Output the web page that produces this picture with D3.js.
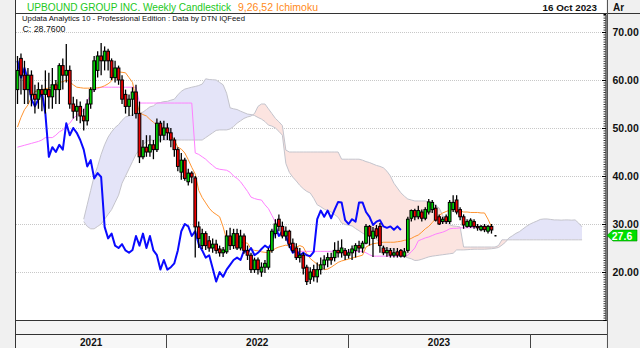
<!DOCTYPE html>
<html><head><meta charset="utf-8">
<script src="https://cdn.jsdelivr.net/npm/d3@7"></script>
<style>html,body{margin:0;padding:0;background:#fff;}svg{display:block;font-family:Arial,"Liberation Sans",sans-serif;}</style>
</head><body><svg id="c" width="640" height="348"></svg>
<script>
// ---------------- DATA ----------------
const firstWeek = "2021-03-08";           // first weekly candle
const opens  = [58,64.5,61,58,61,57,56,58,57,58,56.5,59,58,63,61,62,55,53.5,54.5,52.5,51.5,55,58,62,65,64,66,64,60.5,62.5,60,57,54.5,56,57.5,53,44,46,45,46.5,45.5,51,48.5,50,49,47.5,45.5,40.8,43.3,38.8,40.6,39.6,29.4,25.5,28,26.5,25,25.8,24.8,24,24.2,27.5,25.5,28,25,27.5,24.5,23.5,20.5,22.5,20,21,21,24.5,28,31,29.5,27.5,28.5,26,25,23,23.5,21,18.5,20.5,19,20.5,21.5,22.5,23,23,24.5,24,24.5,23.5,24,24.5,25.5,25,26,29.5,27,29,29.5,25,24,24.5,23.5,24.2,24.5,23.3,24.5,31.2,32.8,31.5,32.5,31.2,32.5,33,33.3,31.5,30.5,31.5,30.5,33,35,33,31.5,29.5,29.5,30.5,29.5,28.8,29.5,28.5,29.5];
const highs  = [65,65.5,64,62.5,62,59,59.5,59,62,61.5,62.5,60,63.5,64.5,67.5,63,56.5,56,55.5,54,56,58.5,65,66,67.7,67,66.5,64.5,64,63,61,58,57,58.5,59,55.5,47.5,48.5,48.5,47.5,52,51.5,51.5,51,50,48,46,44.8,43.8,41.5,41,40,30.5,29,28.5,27.5,27,26.7,25.5,25.2,28.7,29.2,29,29,28.8,28,25.5,24,23,23,22,22.5,25,29,31,32,30.5,29.5,28.8,27,26,25,24,21.5,21,21.5,22,23,23.5,24,24,26.2,26.5,26.8,25,24.8,25.5,26,26.5,26.5,30,29.8,29.4,29.8,30.2,25.5,25.2,25,25,25,24.8,25,31.5,33,33.2,33.8,33,33.5,35.2,35,34,32,31.5,32,35,36,36,33.5,32,31,31.2,31,30,29.8,30,29.8,30];
const lows   = [55,57,55,55,54.5,53,54,53.5,53,54,54,55,55,58,59.5,54,52,51.5,51,49.5,50.5,54,57.5,60.5,61,62,62,60,59.5,59,55,53,52.5,52.5,52,42.7,43.5,44,44,43.5,45,47,47.5,47.5,46,44,41,39.2,39,38,38.5,23,25,24.8,24.6,24.2,24,23.8,23.2,23.1,23.8,24.6,24.8,24.6,24.5,23.8,22.5,19.8,19.8,19.5,19,19.8,20.5,24,27,28.5,27,26.5,25,24,22.5,22,19.5,17.3,17.5,18,17.8,19.5,20.5,21,21.5,22.2,23,23,22.5,22.8,22.5,23,24,24,25.8,25.5,23.1,27,24,23.5,23.2,23,23,23,23,23,24,30.5,30.8,31,30.5,30.8,32,32.3,30.5,29.8,30,30,30,32.5,32,30.8,29,29.2,29.2,29,28.6,28.5,28.3,28,28];
const closes = [62,61,58,61,57,56,58,57,58,56.5,59,58,63,61,62,55,53.5,54.5,52.5,51.5,55,58,64,65,64,66,64,60.5,62.5,60,56,54.5,56,57.5,53,44,46,45,46.5,45.5,51,48.5,50,49,47.5,45.5,42,43.3,39.5,40.6,39.8,29.4,27,28,25.5,25,25.8,24.5,24,24.6,27.5,25.5,28,25,27.5,24.5,23.5,20.5,22.5,20.5,21,21.8,24.5,28.5,30,29.5,27.5,28.5,25.8,24.5,23,23.5,20.8,18,20,19,20.5,21.5,22.5,23,22.5,24.5,24,25,23.5,24,24.8,25.5,25,26,29.5,27.5,28.5,27.5,25.5,24,24.5,23.5,24,23.5,23.3,24.2,31,32.8,31.5,32.8,31.2,33,34.6,34.5,30.8,30,31,30.5,34.5,34.5,32.5,31.5,29.8,30.5,30.8,29.5,29.2,29.5,28.8,29.5,28.76];
// Ichimoku 9,26,52 lines
const tenkan = [50.2,52.2,53.8,54.8,56.4,57.6,57.8,58,58.2,58.3,58.6,59.2,59.6,59.6,60,59.6,59,58.5,58.4,58.3,58.3,58.3,58.3,58.4,58.5,58.8,59.2,59.8,62,61.7,61.6,61.5,60.5,59.5,56,53.2,52.8,52.5,51.8,51.2,50.6,50.4,50,49.2,48.5,47.5,46,45.6,44.8,43.4,41.8,40.4,37,35.5,34.4,33.3,32.5,32,31.5,29.4,26.8,26.4,26.2,26.2,26.2,26.1,26,24.8,24.5,24.4,24.2,24.1,24,24.4,24.9,25.2,25.4,25.6,25.4,25.3,25.2,25.5,25.2,23.8,22.8,22.2,21.6,21.2,20.5,20.6,21,21.5,22,22.3,22.5,22.7,22.9,23.1,23.3,23.5,25.2,25.6,25.9,26,26.1,26.2,26.2,26.2,26.2,26.3,26.4,26.6,26.7,27,27.4,27.7,28.3,29,29.5,30.3,31.1,31.8,32.3,32.6,32.9,33,33,32.7,32.5,32.5,32.4,32.4,32.4,32.3,32.3,31,29.4];
const kijun  = [46,46.2,46.4,46.6,46.8,47,47.2,47.5,48,48,48,48.5,49.2,49.6,50.4,51,52,52.6,53.2,53.7,55.5,57,57.9,58.2,58.5,58.5,58.5,58.5,58.5,58.5,58.5,58.5,58.5,58.5,58.5,55.2,55.2,55.2,55.2,55.2,55.2,55.2,55.2,55.2,55.2,55.2,55.2,55.2,55.2,55.2,55.2,44.8,44.5,44,43.5,42.8,42.2,41.6,41.4,41.3,41.2,40.8,40,39.5,38.8,37.8,36.8,35.6,35.3,35.1,35,34,33.2,31.8,30.4,29.9,29.4,28,26.5,24.8,24.3,24.3,24.3,24.3,24.3,24.3,24.3,24.3,24.3,24.3,24.3,24.3,24.3,24.3,24.3,24.3,24.3,24.3,24.3,24.3,24,23.6,23.3,23.3,23.3,23.3,23.3,23.3,23.3,23.3,23.3,23.3,23.5,24.2,25,26.5,26.8,27.1,27.3,27.6,27.9,28.1,28.3,28.6,29,29.1,29.1,29.2,29.2,29.2,29.2,29.3,29.3,29.3,29.4,29.4,29.4];
const cloudStartWeek = 19;   // cloud (plotted 26 weeks ahead) starts at this week index
const spanA = [31,34,37,40,42,44.5,46.5,48.1,49.2,50.1,50.7,51.6,52.3,52.5,52.75,53.1,53.15,53.3,53.85,54.4,54.6,55.2,55.3,55.5,55.55,55.8,56,56.9,57.65,58.1,58.3,58.5,58.65,58.85,59.15,60.25,60.1,60.05,60,59.5,59,57.25,54.2,54,53.85,53.5,53.2,52.9,52.8,52.6,52.2,51.85,51.35,50.6,50.4,50,49.3,48.5,42.6,40.75,39.75,38.95,38.05,37.35,36.8,36.45,35.35,34,33.6,33.1,32.85,32.5,31.95,31.4,30.2,29.9,29.75,29.6,29.05,28.6,28.1,27.65,27.55,27.4,26.8,25.95,25.05,24.75,24.9,24.75,24.05,23.55,23.25,22.95,22.75,22.4,22.45,22.65,22.9,23.15,23.3,23.4,23.5,23.6,23.7,23.8,23.9,24.6,24.6,24.6,24.65,24.7,24.75,24.75,24.75,24.75,24.8,24.85,24.95,25.1,25.6,26.2,27.1,27.55,28.05,28.4,28.95,29.5,29.95,30.3,30.6,30.95,31.05,31.05,30.95,30.85,30.85,30.8,30.85,30.85,30.8,30.85,30.2,29.4];
const spanB = [30.5,29.5,29,29,29.5,30,31,32,33,34.5,36,38.5,40,41.5,43,44.5,45.5,46.5,47.2,47.5,47.5,47.5,47.5,47.5,47.5,47.5,47.5,47.5,47.5,47.5,47.5,47.5,47.5,47.5,47.5,48,48.5,49,49.5,49.6,49.6,49.6,49.8,50.3,51,51.5,52,52.3,52.5,53,54.5,55,55,54,53,52,51.3,50.5,45.4,45,45,45,45,45,45,45,45,45,45,45,45,45,45,45,43.5,43.5,43.5,43.5,43.5,43.5,43.3,43,42.8,42.5,42.2,42,41.7,41,40,38.5,37.5,36.5,35.8,35.2,35,34.8,34.8,34.8,34.8,34.6,34.3,33.8,33.3,31.8,30.5,29.8,29.6,29.5,29.4,25.2,25.2,25.2,25.2,25.2,25.2,25.2,25.2,25.2,25.2,25.5,26.7,26.7,26.7,26.7,26.7,26.7,26.7,26.7,26.7,26.7,26.7,26.7,26.7,26.7,26.7,26.7,26.7,26.7,26.7,26.7,26.7,26.7,26.7,26.7];
const chikouShift = 26;
const yTicks = [20,30,40,50,60,70];
const yearLabels = ["2021","2022","2023"];
const lastPrice = 27.6;
const titleMain = "UPBOUND GROUP INC. Weekly Candlestick";
const titleInd = "9,26,52 Ichimoku";
const subTitle = "Updata Analytics 10 - Professional Edition : Data by DTN IQFeed";
const closeText = "C: 28.7600";
const dateText = "16 Oct 2023";

// ---------------- LAYOUT ----------------
const W = 640, H = 348;
const P = {left:16, right:605, top:14, bottom:320};
const svg = d3.select("#c");
const parse = d3.utcParse("%Y-%m-%d");
const t0 = parse(firstWeek);
const weekDate = i => d3.utcDay.offset(t0, 7 * i);
const x = d3.scaleUtc().domain([parse("2021-03-05"), parse("2024-06-02")]).range([P.left, P.right + 1]);
const y = d3.scaleLinear().domain([10, 73.75]).range([P.bottom, P.top]);

// backgrounds
svg.append("rect").attr("width", W).attr("height", H).attr("fill", "#f0f0f0");
svg.append("rect").attr("x", P.left).attr("y", 0).attr("width", P.right - P.left + 1).attr("height", P.bottom).attr("fill", "#fff");
svg.append("rect").attr("x", P.left).attr("y", P.bottom).attr("width", P.right - P.left + 1).attr("height", 14).attr("fill", "#f4f4f4");
svg.append("rect").attr("x", P.left).attr("y", 334).attr("width", P.right - P.left + 1).attr("height", 14).attr("fill", "#f7f7f7");

const defs = svg.append("defs");
defs.append("clipPath").attr("id", "plotclip").append("rect")
  .attr("x", P.left).attr("y", P.top).attr("width", P.right - P.left).attr("height", P.bottom - P.top);

// gridlines
svg.append("g").selectAll("line").data(yTicks).join("line")
  .attr("x1", P.left).attr("x2", P.right).attr("y1", d => Math.round(y(d)) + 0.5).attr("y2", d => Math.round(y(d)) + 0.5)
  .attr("stroke", "#c8c8c8").attr("stroke-dasharray", "1,1");

const g = svg.append("g").attr("clip-path", "url(#plotclip)");

// ---- cloud ----
const cloud = spanA.map((a, k) => ({x: x(weekDate(cloudStartWeek + k)), a: y(a), b: y(spanB[k])}));
defs.append("clipPath").attr("id", "aboveB").append("path")
  .attr("d", d3.area().x(d => d.x).y0(0).y1(d => d.b)(cloud));
defs.append("clipPath").attr("id", "belowB").append("path")
  .attr("d", d3.area().x(d => d.x).y0(d => d.b).y1(H)(cloud));
const band = d3.area().x(d => d.x).y0(d => d.b).y1(d => d.a);
g.append("path").attr("d", band(cloud)).attr("fill", "#e4e4f8").attr("clip-path", "url(#aboveB)");
g.append("path").attr("d", band(cloud)).attr("fill", "#fce4e0").attr("clip-path", "url(#belowB)");
g.append("path").attr("d", d3.line().x(d => d.x).y(d => d.a)(cloud)).attr("fill", "none").attr("stroke", "#c4c4cc").attr("stroke-width", 1);
g.append("path").attr("d", d3.line().x(d => d.x).y(d => d.b)(cloud)).attr("fill", "none").attr("stroke", "#c4c4cc").attr("stroke-width", 1);

// ---- kijun / tenkan ----
g.append("path").attr("d", d3.line().x((d, i) => x(weekDate(i))).y(d => y(d))(kijun))
  .attr("fill", "none").attr("stroke", "#ff80ff").attr("stroke-width", 1);
g.append("path").attr("d", d3.line().x((d, i) => x(weekDate(i))).y(d => y(d))(tenkan))
  .attr("fill", "none").attr("stroke", "#ff9430").attr("stroke-width", 1);

// ---- chikou (close shifted back) ----
const chikou = closes.slice(chikouShift).map((c, k) => ({i: k, v: c}));
g.append("path").attr("d", d3.line().x(d => x(weekDate(d.i))).y(d => y(d.v))(chikou))
  .attr("fill", "none").attr("stroke", "#0a0aff").attr("stroke-width", 2).attr("stroke-linejoin", "round");

// ---- candles ----
const candles = closes.map((c, i) => ({i, o: opens[i], h: highs[i], l: lows[i], c}));
const cg = g.append("g");
cg.selectAll("line").data(candles).join("line")
  .attr("x1", d => x(weekDate(d.i))).attr("x2", d => x(weekDate(d.i)))
  .attr("y1", d => y(d.h)).attr("y2", d => y(d.l)).attr("stroke", "#000").attr("stroke-width", 1.3);
cg.selectAll("rect").data(candles).join("rect")
  .attr("x", d => x(weekDate(d.i)) - 1.35).attr("width", 2.7)
  .attr("y", d => y(Math.max(d.o, d.c))).attr("height", d => Math.max(1, Math.abs(y(d.o) - y(d.c))))
  .attr("fill", d => d.c >= d.o ? "#00d000" : "#ee0000").attr("stroke", "#000").attr("stroke-width", 1);
// last price tick
g.append("rect").attr("x", x(weekDate(closes.length - 1)) + 3).attr("y", y(lastPrice) - 0.5).attr("width", 2).attr("height", 1.5).attr("fill", "#000");

// ---- frame lines ----
svg.append("line").attr("x1", P.left - 0.5).attr("x2", P.left - 0.5).attr("y1", 0).attr("y2", H).attr("stroke", "#333");
svg.append("line").attr("x1", P.left).attr("x2", W).attr("y1", 13.5).attr("y2", 13.5).attr("stroke", "#333");
svg.append("line").attr("x1", P.left).attr("x2", P.right + 2).attr("y1", P.bottom + 0.5).attr("y2", P.bottom + 0.5).attr("stroke", "#333");
svg.append("line").attr("x1", P.left).attr("x2", P.right + 2).attr("y1", 334.5).attr("y2", 334.5).attr("stroke", "#333");
svg.append("line").attr("x1", P.right + 2.5).attr("x2", P.right + 2.5).attr("y1", 0).attr("y2", H).attr("stroke", "#555");

// ---- right axis ----
const minor = d3.range(10, 73.75, 0.5);
svg.append("g").attr("transform", `translate(${P.right + 0.5},0)`)
  .call(d3.axisLeft(y).tickValues(minor).tickSize(2).tickFormat(""))
  .call(a => a.select(".domain").attr("stroke", "#000"))
  .call(a => a.selectAll(".tick line").attr("stroke", "#000").attr("stroke-width", 0.8));
svg.append("g").attr("transform", `translate(${P.right + 0.5},0)`)
  .call(d3.axisRight(y).tickValues(yTicks).tickSize(0).tickPadding(7).tickFormat(d3.format(".2f")))
  .call(a => a.select(".domain").remove())
  .call(a => a.selectAll("text").attr("font-size", 10.5).attr("font-weight", "bold").attr("fill", "#111").attr("font-family", "Arial, Liberation Sans, sans-serif"));
svg.append("g").selectAll("line").data(yTicks).join("line")
  .attr("x1", P.right - 3).attr("x2", P.right + 1).attr("y1", d => Math.round(y(d)) + 0.5).attr("y2", d => Math.round(y(d)) + 0.5).attr("stroke", "#000");

// last price marker
const yl = y(lastPrice);
svg.append("path").attr("d", `M${P.right + 2},${yl} L${P.right + 8},${yl - 5.5} L${W - 3},${yl - 5.5} L${W - 3},${yl + 5.5} L${P.right + 8},${yl + 5.5} Z`)
  .attr("fill", "#00e000").attr("stroke", "#008800").attr("stroke-width", 0.6);
svg.append("text").attr("x", 622).attr("y", yl + 4).attr("text-anchor", "middle").attr("font-size", 10.5)
  .attr("font-weight", "bold").attr("fill", "#fff").text(lastPrice.toFixed(1));

// ---- year axis ----
const yearStarts = yearLabels.map(s => parse(s + "-01-01"));
const bounds = yearStarts.map((d, k) => [Math.max(P.left, x(d)), Math.min(P.right, x(d3.utcYear.offset(d, 1)))]);
svg.append("g").selectAll("line").data(yearStarts.slice(1).concat([d3.utcYear.offset(yearStarts[2], 1)])).join("line")
  .attr("x1", d => Math.round(x(d)) + 0.5).attr("x2", d => Math.round(x(d)) + 0.5).attr("y1", 334).attr("y2", H)
  .attr("stroke", "#444");
svg.append("g").selectAll("text").data(yearLabels).join("text")
  .attr("x", (d, k) => (bounds[k][0] + bounds[k][1]) / 2).attr("y", 345.5).attr("text-anchor", "middle")
  .attr("font-size", 10).attr("font-weight", "bold").attr("fill", "#111").text(d => d);

// ---- texts ----
svg.append("text").attr("x", 27).attr("y", 11).attr("font-size", 10).attr("fill", "#22c822")
  .attr("textLength", 204).attr("lengthAdjust", "spacingAndGlyphs").text(titleMain);
svg.append("text").attr("x", 238).attr("y", 11).attr("font-size", 10.3).attr("fill", "#ff8a1a")
  .attr("textLength", 80).attr("lengthAdjust", "spacingAndGlyphs").text(titleInd);
svg.append("text").attr("x", 597).attr("y", 11).attr("text-anchor", "end").attr("font-size", 9.8).attr("font-weight", "bold")
  .attr("fill", "#111").text(dateText);
svg.append("text").attr("x", 613).attr("y", 11).attr("font-size", 10).attr("font-weight", "bold").attr("fill", "#111").text("Ar");
svg.append("text").attr("x", 22).attr("y", 20.5).attr("font-size", 8).attr("fill", "#111")
  .attr("textLength", 223).attr("lengthAdjust", "spacingAndGlyphs").text(subTitle);
svg.append("text").attr("x", 22.5).attr("y", 32).attr("font-size", 9.5).attr("fill", "#111")
  .attr("textLength", 43).attr("lengthAdjust", "spacingAndGlyphs").text(closeText);
</script></body></html>
